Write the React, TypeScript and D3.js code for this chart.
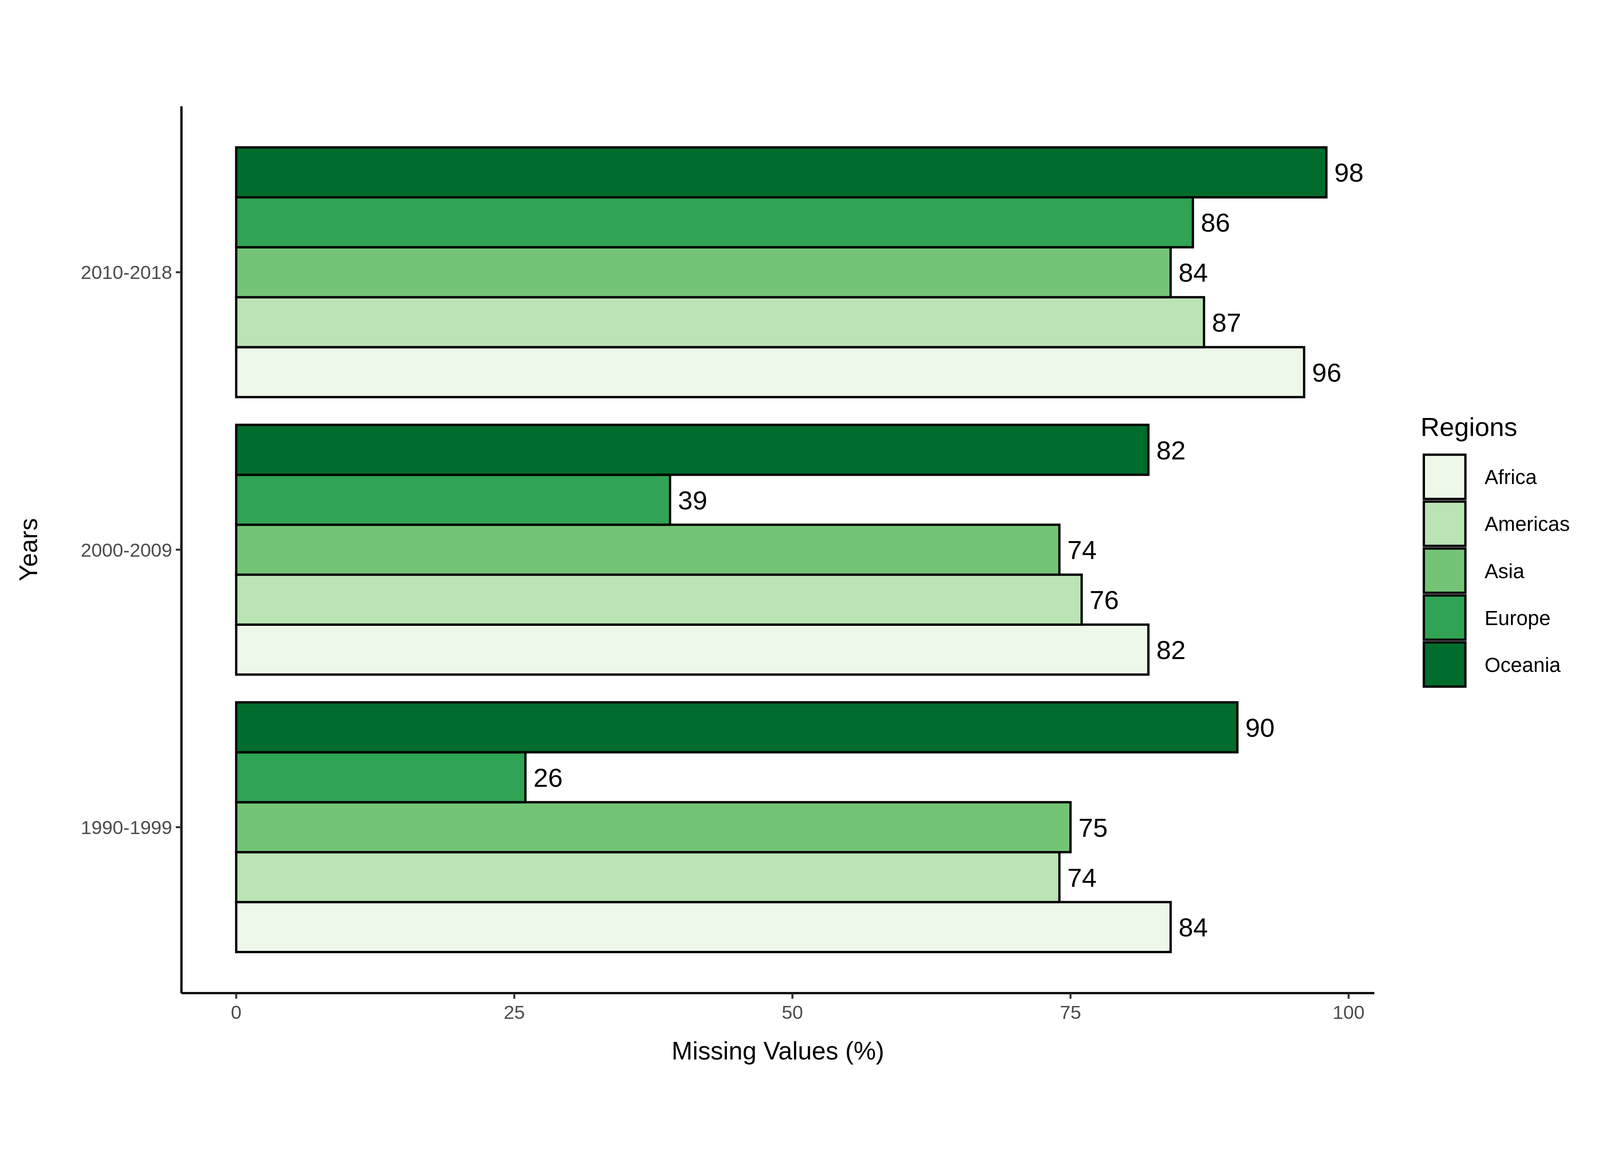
import React from 'react';
import * as d3 from 'd3';

const periods = ['2010-2018', '2000-2009', '1990-1999'];
const regions = ['Africa', 'Americas', 'Asia', 'Europe', 'Oceania'];
const colors = ['#EDF8E9', '#BAE4B3', '#74C476', '#31A354', '#006D2C'];
// values per period, in region order
const values2010 = [96, 87, 84, 86, 98];
const values2000 = [82, 76, 74, 39, 82];
const values1990 = [84, 74, 75, 26, 90];
const seriesByPeriod = [values2010, values2000, values1990];
const xTicks = [0, 25, 50, 75, 100];

const W = 4850;
const H = 3000;
const axisLeft = 550;
const axisRight = 4166;
const axisTop = 46;
const axisBottom = 2734;
const font = '"Liberation Sans", Arial, sans-serif';

const App: React.FC = () => {
  const x = d3.scaleLinear().domain([0, 100]).range([716, 4088]);
  const y = d3.scaleBand().domain(periods).range([128.5, 2651.5]).paddingInner(0.1).paddingOuter(0.05);
  const inner = d3.scaleBand().domain([...regions].reverse()).range([0, y.bandwidth()]);
  const color = d3.scaleOrdinal<string, string>().domain(regions).range(colors);
  const legendY = d3.scaleBand().domain(regions).range([1098, 1809]);

  return <svg viewBox={`0 0 ${W} ${H}`} style={{ position: 'fixed', left: 0, top: 0, width: '100vw', height: '100vh', background: '#fff' }} fontFamily={font}>
      {periods.map((p, pi) => <g key={p} transform={`translate(0,${y(p)})`}>
          {regions.map((r, ri) => {
        const v = seriesByPeriod[pi][ri];
        const yy = inner(r) || 0;
        return <g key={r}>
                <rect x={x(0)} y={yy} width={x(v) - x(0)} height={inner.bandwidth()} fill={color(r)} stroke="#000" strokeWidth={7} />
                <text x={x(v) + 24} y={yy + inner.bandwidth() / 2} dy="0.36em" fontSize={80} fill="#000">{v}</text>
              </g>;
      })}
        </g>)}
      {/* axes */}
      <line x1={axisLeft} x2={axisLeft} y1={axisTop} y2={axisBottom} stroke="#000" strokeWidth={7} />
      <line x1={axisLeft} x2={axisRight} y1={axisBottom} y2={axisBottom} stroke="#000" strokeWidth={7} />
      {xTicks.map(t => <g key={t}>
          <line x1={x(t)} x2={x(t)} y1={axisBottom} y2={axisBottom + 17} stroke="#333" strokeWidth={6} />
          <text x={x(t)} y={axisBottom + 78} textAnchor="middle" fontSize={58} fill="#4D4D4D">{t}</text>
        </g>)}
      {periods.map(p => <g key={p}>
          <line x1={axisLeft - 17} x2={axisLeft} y1={(y(p) || 0) + y.bandwidth() / 2} y2={(y(p) || 0) + y.bandwidth() / 2} stroke="#333" strokeWidth={6} />
          <text x={axisLeft - 28} y={(y(p) || 0) + y.bandwidth() / 2} dy="0.36em" textAnchor="end" fontSize={58} fill="#4D4D4D">{p}</text>
        </g>)}
      <text x={(axisLeft + axisRight) / 2} y={2935} textAnchor="middle" fontSize={76} fill="#000">Missing Values (%)</text>
      <text transform={`translate(112,${(axisTop + axisBottom) / 2}) rotate(-90)`} textAnchor="middle" fontSize={76} fill="#000">Years</text>
      {/* legend */}
      <text x={4306} y={1045} fontSize={80} fill="#000">Regions</text>
      {regions.map(r => <g key={r}>
          <rect x={4316} y={(legendY(r) || 0) + 4} width={126} height={legendY.bandwidth() - 8} fill={color(r)} stroke="#000" strokeWidth={7} />
          <text x={4500} y={(legendY(r) || 0) + legendY.bandwidth() / 2} dy="0.36em" fontSize={62} fill="#000">{r}</text>
        </g>)}
    </svg>;
};

export default App;
